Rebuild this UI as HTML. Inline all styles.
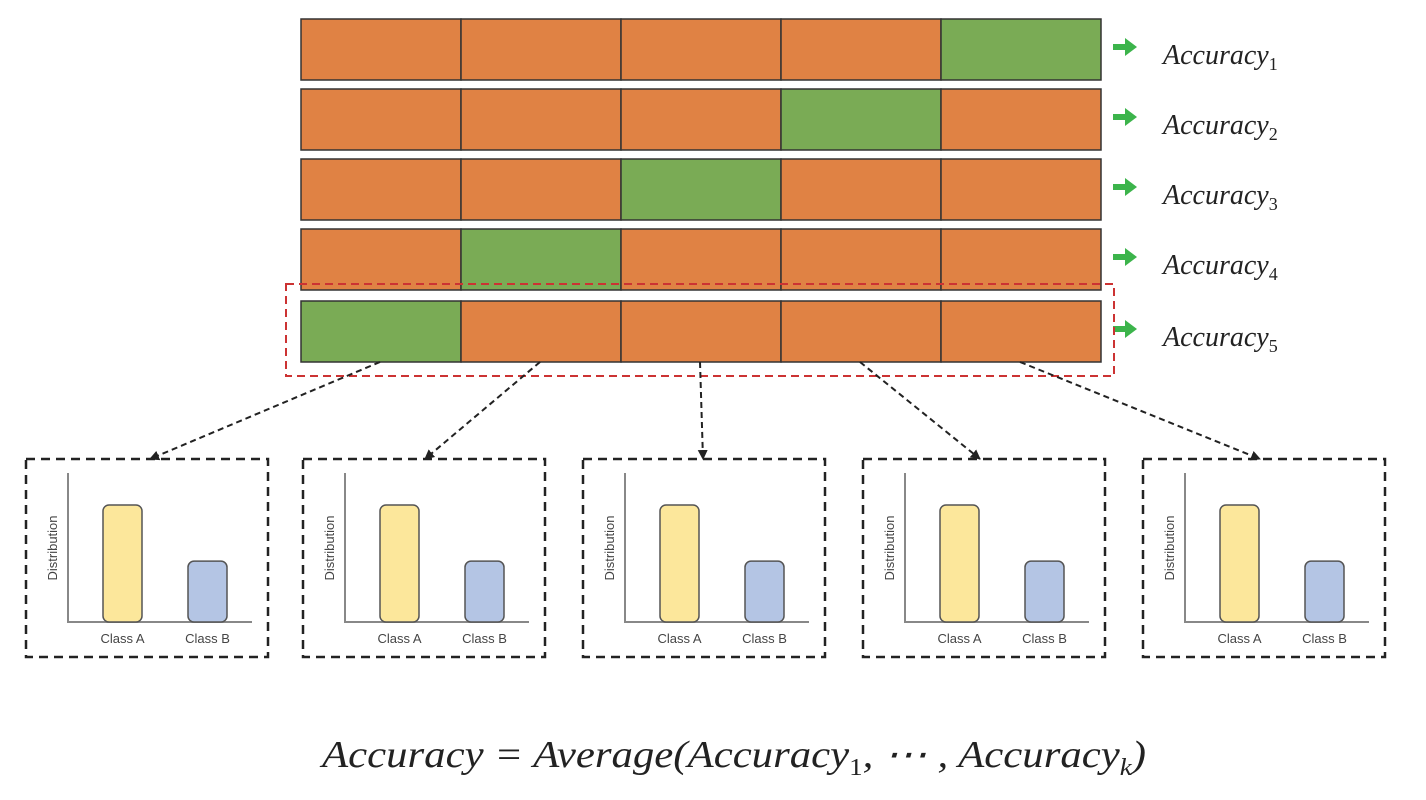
<!DOCTYPE html>
<html><head><meta charset="utf-8"><style>
html,body{margin:0;padding:0;background:#fff;}
svg{display:block;}
.m{font-family:"Liberation Serif",serif;font-style:italic;fill:#222;}
.u{font-style:normal;}
.s{font-family:"Liberation Sans",sans-serif;fill:#444;}
</style></head><body>
<svg id="fig" width="1426" height="800" viewBox="0 0 1426 800" xmlns="http://www.w3.org/2000/svg">
<defs>
<marker id="ah" viewBox="0 0 10 10" refX="9" refY="5" markerWidth="10" markerHeight="10" markerUnits="userSpaceOnUse" orient="auto"><path d="M0,0 L10,5 L0,10 z" fill="#222"/></marker>
</defs>
<g id="rows"></g>
<rect x="286" y="284" width="828" height="92" fill="none" stroke="#cc3333" stroke-width="2" stroke-dasharray="8,5"/>
<g id="arrows"></g>
<g id="panels"></g>
<text class="m" x="322" y="767" font-size="38" textLength="824" lengthAdjust="spacingAndGlyphs">Accuracy = Average(Accuracy<tspan class="u" font-size="24" dy="8">1</tspan><tspan dy="-8">, ⋯ , Accuracy</tspan><tspan font-size="24" dy="8">k</tspan><tspan dy="-8">)</tspan></text>
</svg>
<script>
const folds = [5,4,3,2,1];        // index (1-based) of validation fold per row
const labels = ["1","2","3","4","5"];
const classes = ["Class A","Class B"];
const dist = [1.0, 0.52];          // relative bar heights
const NS="http://www.w3.org/2000/svg";
function mk(t,a,p){const e=document.createElementNS(NS,t);for(const k in a)e.setAttribute(k,a[k]);p.appendChild(e);return e;}
const rows=document.getElementById('rows');
const rowY=[19,89,159,229,301];
for(let r=0;r<folds.length;r++){
  for(let c=0;c<5;c++){
    const e=mk('rect',{x:301+c*160,y:rowY[r],width:160,height:61,fill:(c+1===folds[r])?'#7aab55':'#e08244',stroke:'#333','stroke-width':1.5},rows);
    
    
  }
  const cy=rowY[r]+28;
  const a=mk('path',{d:`M1113,${cy-3} h12 v-6 l12,9 l-12,9 v-6 h-12 z`,fill:'#3cb44b'},rows);
  
  
  const t=mk('text',{x:1163,y:cy+17,'font-size':28,class:'m'},rows);
  
  
  t.textContent='Accuracy';
  const s=mk('tspan',{'font-size':18,dy:6,class:'u'},t); s.textContent=labels[r];
}
const panelX=[26,303,583,863,1143];
const starts=[380,540,700,860,1020];
const ends=[150,425,703,980,1260];
const ar=document.getElementById('arrows');
for(let i=0;i<5;i++){
  const l=mk('line',{x1:starts[i],y1:362,x2:ends[i],y2:459,stroke:'#222','stroke-width':2,'stroke-dasharray':'6,4','marker-end':'url(#ah)'},ar);
  
  
}
const pg=document.getElementById('panels');
const base=622, full=117;
for(let i=0;i<5;i++){
  const x=panelX[i];
  const g=mk('g',{},pg);
  
  
  mk('rect',{x:x,y:459,width:242,height:198,fill:'none',stroke:'#222','stroke-width':2.5,'stroke-dasharray':'9,6'},g);
  mk('line',{x1:x+42,y1:473,x2:x+42,y2:base,stroke:'#888','stroke-width':2},g);
  mk('line',{x1:x+41,y1:base,x2:x+226,y2:base,stroke:'#888','stroke-width':2},g);
  const yl=mk('text',{x:0,y:0,'font-size':13,class:'s',transform:`translate(${x+31},548) rotate(-90)`,'text-anchor':'middle'},g);
  
  
  yl.textContent='Distribution';
  const bx=[x+77,x+162], fills=['#fce79b','#b4c5e4'];
  for(let k=0;k<2;k++){
    const h=full*dist[k];
    const b=mk('rect',{x:bx[k],y:base-h,width:39,height:h,rx:6,fill:fills[k],stroke:'#555','stroke-width':1.5},g);
    
    
    const t=mk('text',{x:bx[k]+19.5,y:643,'font-size':13,class:'s','text-anchor':'middle'},g);
    
    
    t.textContent=classes[k];
  }
}
</script>
</body></html>
